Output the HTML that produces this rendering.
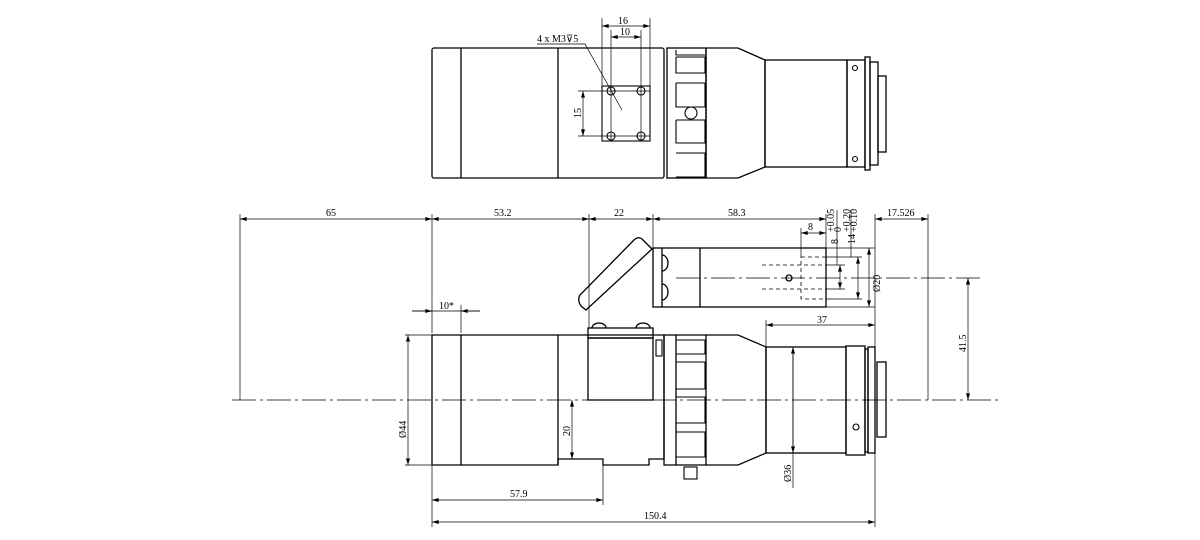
<!DOCTYPE html>
<html><head><meta charset="utf-8"><style>
html,body{margin:0;padding:0;background:#fff}
svg{display:block}
text{font-family:"Liberation Serif",serif;font-size:10px;fill:#000}
</style></head><body>
<svg width="1200" height="540" viewBox="0 0 1200 540" xmlns="http://www.w3.org/2000/svg">
<defs>
<marker id="a" viewBox="0 0 10 6" refX="10" refY="3" markerWidth="10" markerHeight="4" orient="auto-start-reverse" markerUnits="userSpaceOnUse"><path d="M0,0L10,3L0,6z" fill="#000"/></marker>
</defs>
<g fill="none" stroke="#000" stroke-width="1.3">
<rect x="432" y="48" width="232" height="130" rx="2"/>
<line x1="461" y1="48" x2="461" y2="178"/>
<line x1="558" y1="48" x2="558" y2="178"/>
<rect x="667" y="48" width="39" height="130"/>
<line x1="706" y1="48" x2="706" y2="178"/>
<path d="M706,48H738L765,60V167L738,178H706"/>
<rect x="765" y="60" width="82" height="107"/>
<rect x="847" y="60" width="18" height="107"/>
<rect x="865" y="57" width="5" height="113"/>
<rect x="870" y="62" width="8" height="103"/>
<rect x="878" y="76" width="8" height="76"/>
<g stroke-width="1.1">
<path d="M676,50V55H705M676,57H705V73H676V57M676,83H705V107H676V83M676,120H705V143H676V120M676,153H705V177H676"/>
<circle cx="691" cy="113" r="6"/>
<circle cx="855" cy="68" r="2.5"/><circle cx="855" cy="159" r="2.5"/>
<rect x="602" y="86" width="48" height="55"/>
<circle cx="611" cy="91" r="4"/><circle cx="641" cy="91" r="4"/>
<circle cx="611" cy="136" r="4"/><circle cx="641" cy="136" r="4"/>
</g>
<g stroke-width="0.7">
<line x1="602" y1="18" x2="602" y2="86"/><line x1="650" y1="18" x2="650" y2="86"/>
<line x1="611" y1="30" x2="611" y2="141"/><line x1="641" y1="30" x2="641" y2="141"/>
<line x1="602" y1="26" x2="650" y2="26" marker-start="url(#a)" marker-end="url(#a)"/>
<line x1="611" y1="37" x2="641" y2="37" marker-start="url(#a)" marker-end="url(#a)"/>
<line x1="578" y1="91" x2="650" y2="91"/><line x1="578" y1="136" x2="650" y2="136"/>
<line x1="583" y1="91" x2="583" y2="136" marker-start="url(#a)" marker-end="url(#a)"/>
<path d="M537,44H585L622,110"/>
</g>
<path d="M432,335H664V459H649V465H603V459H558V465H432Z"/>
<line x1="461" y1="335" x2="461" y2="465"/>
<line x1="558" y1="335" x2="558" y2="465"/>
<rect x="588" y="338" width="65" height="62"/>
<rect x="588" y="328" width="65" height="10"/>
<path d="M592,328a7,5 0 0 1 14,0M636,328a7,5 0 0 1 14,0"/>
<rect x="664" y="335" width="12" height="130"/>
<path d="M676,335H706V465H676"/>
<path d="M706,335H738L766,347V453L738,465H706"/>
<rect x="766" y="347" width="80" height="106"/>
<rect x="846" y="346" width="19" height="109"/>
<rect x="865" y="349" width="3" height="103"/>
<rect x="868" y="347" width="7" height="106"/>
<rect x="877" y="362" width="9" height="75"/>
<g stroke-width="1.1">
<path d="M676,340H705V354H676M676,362H705V389H676M676,397H705V423H676M676,432H705V457H676"/>
<rect x="684" y="467" width="13" height="12"/>
<circle cx="856" cy="427" r="3"/>
<rect x="656" y="340" width="6" height="16"/>
</g>
<path d="M652,249L642,239Q638,236 634,240L580,295Q577,300 581,306L586,310Z"/>
<rect x="653" y="248" width="173" height="59"/>
<line x1="662" y1="248" x2="662" y2="307"/>
<line x1="700" y1="248" x2="700" y2="307"/>
<path d="M662,255a6,8 0 0 1 0,16M662,284a6,8 0 0 1 0,16"/>
<circle cx="789" cy="278" r="3"/>
<g stroke-width="0.8" stroke-dasharray="4,3">
<rect x="801" y="257" width="25" height="42"/>
<line x1="762" y1="265" x2="826" y2="265"/><line x1="762" y1="289" x2="826" y2="289"/>
</g>
<g stroke-width="0.7">
<line x1="232" y1="400" x2="1000" y2="400" stroke-dasharray="24,4,3,4"/>
<line x1="676" y1="278" x2="980" y2="278" stroke-dasharray="24,4,3,4"/>
<line x1="240" y1="214" x2="240" y2="400"/>
<line x1="432" y1="214" x2="432" y2="333"/>
<line x1="432" y1="466" x2="432" y2="527"/>
<line x1="589" y1="214" x2="589" y2="328"/>
<line x1="653" y1="214" x2="653" y2="248"/>
<line x1="826" y1="214" x2="826" y2="248"/>
<line x1="875" y1="214" x2="875" y2="527"/>
<line x1="928" y1="214" x2="928" y2="400"/>
<line x1="240" y1="219" x2="432" y2="219" marker-start="url(#a)" marker-end="url(#a)"/>
<line x1="432" y1="219" x2="589" y2="219" marker-start="url(#a)" marker-end="url(#a)"/>
<line x1="589" y1="219" x2="653" y2="219" marker-start="url(#a)" marker-end="url(#a)"/>
<line x1="653" y1="219" x2="826" y2="219" marker-start="url(#a)" marker-end="url(#a)"/>
<line x1="875" y1="219" x2="928" y2="219" marker-start="url(#a)" marker-end="url(#a)"/>
<line x1="801" y1="228" x2="801" y2="257"/>
<line x1="801" y1="233" x2="826" y2="233" marker-start="url(#a)" marker-end="url(#a)"/>
<line x1="837" y1="210" x2="837" y2="265"/>
<line x1="851" y1="210" x2="851" y2="257"/>
<line x1="826" y1="248" x2="875" y2="248"/><line x1="826" y1="307" x2="875" y2="307"/>
<line x1="826" y1="257" x2="862" y2="257"/><line x1="826" y1="299" x2="862" y2="299"/>
<line x1="826" y1="265" x2="845" y2="265"/><line x1="826" y1="289" x2="845" y2="289"/>
<line x1="869" y1="248" x2="869" y2="307" marker-start="url(#a)" marker-end="url(#a)"/>
<line x1="858" y1="257" x2="858" y2="299" marker-start="url(#a)" marker-end="url(#a)"/>
<line x1="840" y1="265" x2="840" y2="289" marker-start="url(#a)" marker-end="url(#a)"/>
<line x1="968" y1="278" x2="968" y2="400" marker-start="url(#a)" marker-end="url(#a)"/>
<line x1="766" y1="320" x2="766" y2="347"/>
<line x1="766" y1="325" x2="875" y2="325" marker-start="url(#a)" marker-end="url(#a)"/>
<line x1="793" y1="347" x2="793" y2="488" />
<line x1="793" y1="347" x2="793" y2="453" marker-start="url(#a)" marker-end="url(#a)"/>
<line x1="405" y1="335" x2="432" y2="335"/><line x1="405" y1="465" x2="432" y2="465"/>
<line x1="408" y1="335" x2="408" y2="465" marker-start="url(#a)" marker-end="url(#a)"/>
<line x1="572" y1="400" x2="572" y2="459" marker-start="url(#a)" marker-end="url(#a)"/>
<line x1="568" y1="459" x2="603" y2="459"/>
<line x1="603" y1="465" x2="603" y2="505"/>
<line x1="432" y1="500" x2="603" y2="500" marker-start="url(#a)" marker-end="url(#a)"/>
<line x1="432" y1="522" x2="875" y2="522" marker-start="url(#a)" marker-end="url(#a)"/>
<line x1="461" y1="305" x2="461" y2="333"/>
<line x1="412" y1="311" x2="480" y2="311"/>
<line x1="412" y1="311" x2="432" y2="311" marker-end="url(#a)"/>
<line x1="480" y1="311" x2="461" y2="311" marker-end="url(#a)"/>
</g>
</g>
<text x="618" y="24">16</text>
<text x="620" y="35">10</text>
<text x="537" y="42">4 x M3⊽5</text>
<text transform="translate(581,118) rotate(-90)">15</text>
<text x="326" y="216">65</text>
<text x="494" y="216">53.2</text>
<text x="614" y="216">22</text>
<text x="728" y="216">58.3</text>
<text x="887" y="216">17.526</text>
<text x="808" y="230" font-size="8">8</text>
<text transform="translate(834,232) rotate(-90)" font-size="7">+0.05</text>
<text transform="translate(841,232) rotate(-90)" font-size="7">0</text>
<text transform="translate(850,232) rotate(-90)" font-size="7">+0.20</text>
<text transform="translate(857,232) rotate(-90)" font-size="7">+0.10</text>
<text transform="translate(838,244) rotate(-90)">8</text>
<text transform="translate(855,244) rotate(-90)">14</text>
<text transform="translate(880,292) rotate(-90)">Ø20</text>
<text transform="translate(966,352) rotate(-90)">41.5</text>
<text x="817" y="323">37</text>
<text x="439" y="309">10*</text>
<text transform="translate(406,438) rotate(-90)">Ø44</text>
<text transform="translate(570,436) rotate(-90)">20</text>
<text transform="translate(791,482) rotate(-90)">Ø36</text>
<text x="510" y="497">57.9</text>
<text x="644" y="519">150.4</text>
</svg>
</body></html>
